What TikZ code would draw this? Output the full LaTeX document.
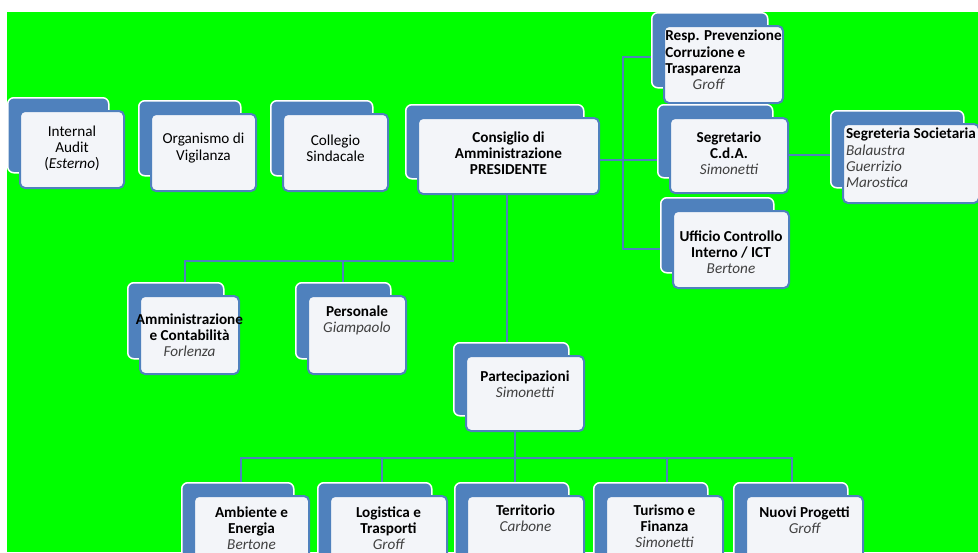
\documentclass[tikz,border=0pt]{standalone}
\usepackage{fontspec}
\setmainfont{Carlito}
\usetikzlibrary{calc}
\definecolor{bggreen}{RGB}{0,255,0}
\definecolor{orgblue}{RGB}{79,129,189}
\definecolor{frontfill}{RGB}{243,245,249}
\tikzstyle{backbox}=[rectangle, rounded corners=6pt, fill=orgblue,
draw=white, line width=1.5pt, anchor=north west, inner sep=0pt]
\tikzstyle{frontbox}=[rectangle, rounded corners=5pt, fill=frontfill,
draw=orgblue, line width=2pt, anchor=north west, inner sep=0pt]
\tikzstyle{boxtext}=[align=center, inner sep=0pt,
font=\fontsize{15.2}{16.2}\selectfont]
\tikzstyle{boldtext}=[font=\fontsize{15.2}{16.2}\selectfont\bfseries]
\tikzstyle{conn}=[draw=orgblue, line width=2pt]
\newcommand{\orgname}[1]{{\mdseries\itshape\color{black!75}#1}}
% name, x, y (front corner), width, height, text options, text
\newcommand{\orgbox}[7]{%
\node[backbox, minimum width=#4-3, minimum height=#5-2] (#1-bk) at (#2-12,#3-13) {};
\node[frontbox, minimum width=#4, minimum height=#5] (#1) at (#2,#3) {};
\node[boxtext, #6] (#1-txt) at (#1.center) {#7};}

\begin{document}
\begin{tikzpicture}[x=1pt, y=-1pt]
\useasboundingbox (0,0) rectangle (978,552);
\clip (0,0) rectangle (978,552);
\fill[white] (0,0) rectangle (978,552);
\fill[bggreen] (7,12) rectangle (978,552);

% Control bodies
\orgbox{audit}{19}{110}{104}{77}{yshift=1.5pt}{Internal\\Audit\\(\textit{Esterno})}
\orgbox{odv}{150}{113}{105}{77}{yshift=4.5pt}{Organismo di\\Vigilanza}
\orgbox{coll}{282}{113}{105}{77}{yshift=4.5pt}{Collegio\\Sindacale}

% Board
\orgbox{cda}{417}{117}{181}{76}{boldtext, yshift=3pt}{Consiglio di\\Amministrazione\\PRESIDENTE}

% Staff on the right
\orgbox{resp}{663}{25}{119}{77}{boldtext, align=left, yshift=4.5pt}{Resp. Prevenzione\\Corruzione e\\Trasparenza\\\hspace{1.8em}\orgname{Groff}}
\orgbox{segr}{669}{117}{118}{75}{boldtext, yshift=2.5pt}{Segretario\\C.d.A.\\\orgname{Simonetti}}
\orgbox{soc}{842}{123}{136}{79}{boldtext, align=left, yshift=5.5pt}{Segreteria Societaria\\\orgname{Balaustra}\\\orgname{Guerrizio}\\\orgname{Marostica}}
\orgbox{uff}{672}{210}{116}{77}{boldtext, yshift=-2.5pt}{Ufficio Controllo\\Interno / ICT\\\orgname{Bertone}}

% Offices
\orgbox{amm}{139}{295}{99}{78}{boldtext}{Amministrazione\\e Contabilità\\\orgname{Forlenza}}
\orgbox{pers}{307}{295}{98}{78}{boldtext, yshift=15pt}{Personale\\\orgname{Giampaolo}}
\orgbox{part}{465}{355}{118}{75}{boldtext, yshift=9pt}{Partecipazioni\\\orgname{Simonetti}}

% Holdings
\orgbox{amb}{193}{495}{115}{77}{boldtext, yshift=6.5pt}{Ambiente e\\Energia\\\orgname{Bertone}}
\orgbox{log}{329}{495}{117}{77}{boldtext, yshift=6.5pt}{Logistica e\\Trasporti\\\orgname{Groff}}
\orgbox{terr}{466}{495}{117}{77}{boldtext, yshift=16.5pt}{Territorio\\\orgname{Carbone}}
\orgbox{tur}{605}{495}{117}{77}{boldtext, yshift=8.5pt}{Turismo e\\Finanza\\\orgname{Simonetti}}
\orgbox{nuovi}{745}{495}{117}{77}{boldtext, yshift=14.5pt}{Nuovi Progetti\\\orgname{Groff}}

% Right hand connectors
\coordinate (rtop) at (623,57);
\coordinate (rbot) at (623,249);
\draw[conn] (resp-bk.west |- rtop) -- (rtop) -- (rbot) -- (uff-bk.west |- rbot);
\draw[conn] (cda.east |- 0,160) -- (segr-bk.west |- 0,160);
\draw[conn] (segr.east |- 0,155) -- (soc-bk.west |- 0,155);

% Offices connectors
\coordinate (lbus) at (453,261);
\draw[conn] (cda.south -| lbus) -- (lbus) -| (amm-bk.north -| 185,0);
\draw[conn] (pers-bk.north |- lbus) -- (pers-bk.north);
\draw[conn] (cda.south -| 507,0) -- (part-bk.north -| 507,0);

% Holdings connectors
\coordinate (bbus) at (515,458);
\draw[conn] (part.south -| bbus) -- (bbus);
\draw[conn] (amb-bk.north -| 241,0) |- (bbus) -| (nuovi-bk.north -| 792,0);
\foreach \b/\x in {log/382, terr/515, tur/667}
  \draw[conn] (\x,458) -- (\b-bk.north -| \x,0);

\end{tikzpicture}
\end{document}
